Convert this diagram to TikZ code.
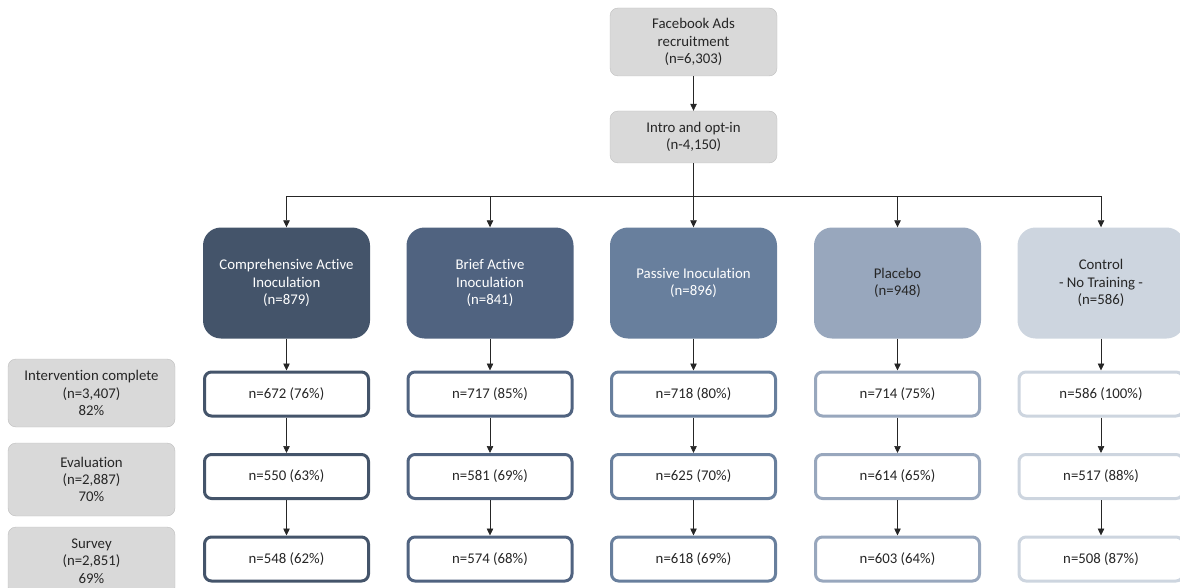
\documentclass[tikz,border=0pt]{standalone}
\usepackage{fontspec}
\setmainfont{Carlito}[Ligatures=NoCommon]
\usetikzlibrary{arrows.meta}
\definecolor{armA}{HTML}{44546A}
\definecolor{armB}{HTML}{506380}
\definecolor{armC}{HTML}{687F9D}
\definecolor{armD}{HTML}{98A7BD}
\definecolor{armE}{HTML}{CDD5DF}
\definecolor{boxgrey}{HTML}{D9D9D9}
\definecolor{ink}{HTML}{262626}
\tikzset{
	base/.style={align=center, font=\fontsize{14.8}{17.3}\selectfont, inner sep=0pt, text=ink},
	greybox/.style={base, fill=boxgrey, draw=boxgrey!88!black, line width=0.4pt, rounded corners=8pt, minimum width=167pt},
	armbox/.style={base, fill=#1, rounded corners=18pt, minimum width=167pt, minimum height=111pt},
	countbox/.style={base, draw=#1, line width=3pt, fill=white, rounded corners=7pt, minimum width=164pt, minimum height=44pt},
	flow/.style={-{Triangle[width=6.5pt,length=7pt]}, line width=0.7pt, draw=black!85},
}
\begin{document}
\begin{tikzpicture}[x=1pt, y=-1pt]
	\useasboundingbox (0,0) rectangle (1180,588);
	% recruitment
	\node[greybox, minimum height=68pt] (fb) at (693.5,42) {Facebook Ads\\recruitment\\(n=6,303)};
	\node[greybox, minimum height=52pt] (intro) at (693.5,137) {Intro and opt-in\\(n-4,150)};
	\coordinate (split) at (693.5,196);
	% arms
	\node[armbox=armA, text=white] (arm1) at (286.5,283) {Comprehensive Active\\Inoculation\\(n=879)};
	\node[armbox=armB, text=white] (arm2) at (490,283) {Brief Active\\Inoculation\\(n=841)};
	\node[armbox=armC, text=white] (arm3) at (693.5,283) {Passive Inoculation\\(n=896)};
	\node[armbox=armD] (arm4) at (897.5,283) {Placebo\\(n=948)};
	\node[armbox=armE] (arm5) at (1101,283) {Control\\- No Training -\\(n=586)};
	% stage labels
	\node[greybox, minimum height=68pt] (stage1) at (91.5,393) {Intervention complete\\(n=3,407)\\82\%};
	\node[greybox, minimum height=73pt] (stage2) at (91.5,479.5) {Evaluation\\(n=2,887)\\70\%};
	\node[greybox, minimum height=68pt] (stage3) at (91.5,561) {Survey\\(n=2,851)\\69\%};
	% counts
	\node[countbox=armA] (a1) at (286.5,394) {n=672 (76\%)};
	\node[countbox=armA] (a2) at (286.5,476.5) {n=550 (63\%)};
	\node[countbox=armA] (a3) at (286.5,559) {n=548 (62\%)};
	\node[countbox=armB] (b1) at (490,394) {n=717 (85\%)};
	\node[countbox=armB] (b2) at (490,476.5) {n=581 (69\%)};
	\node[countbox=armB] (b3) at (490,559) {n=574 (68\%)};
	\node[countbox=armC] (c1) at (693.5,394) {n=718 (80\%)};
	\node[countbox=armC] (c2) at (693.5,476.5) {n=625 (70\%)};
	\node[countbox=armC] (c3) at (693.5,559) {n=618 (69\%)};
	\node[countbox=armD] (d1) at (897.5,394) {n=714 (75\%)};
	\node[countbox=armD] (d2) at (897.5,476.5) {n=614 (65\%)};
	\node[countbox=armD] (d3) at (897.5,559) {n=603 (64\%)};
	\node[countbox=armE] (e1) at (1101,394) {n=586 (100\%)};
	\node[countbox=armE] (e2) at (1101,476.5) {n=517 (88\%)};
	\node[countbox=armE] (e3) at (1101,559) {n=508 (87\%)};
	% connectors
	\draw[flow] (fb) -- (intro);
	\draw[line width=0.7pt, draw=black!85] (intro) -- (split);
	\draw[flow] (split) -| (arm1.north); \draw[flow] (split) -| (arm2.north); \draw[flow] (split) -- (arm3.north);
	\draw[flow] (split) -| (arm4.north); \draw[flow] (split) -| (arm5.north);
	\draw[flow] (arm1) -- (a1); \draw[flow] (a1) -- (a2); \draw[flow] (a2) -- (a3);
	\draw[flow] (arm2) -- (b1); \draw[flow] (b1) -- (b2); \draw[flow] (b2) -- (b3);
	\draw[flow] (arm3) -- (c1); \draw[flow] (c1) -- (c2); \draw[flow] (c2) -- (c3);
	\draw[flow] (arm4) -- (d1); \draw[flow] (d1) -- (d2); \draw[flow] (d2) -- (d3);
	\draw[flow] (arm5) -- (e1); \draw[flow] (e1) -- (e2); \draw[flow] (e2) -- (e3);
\end{tikzpicture}
\end{document}
